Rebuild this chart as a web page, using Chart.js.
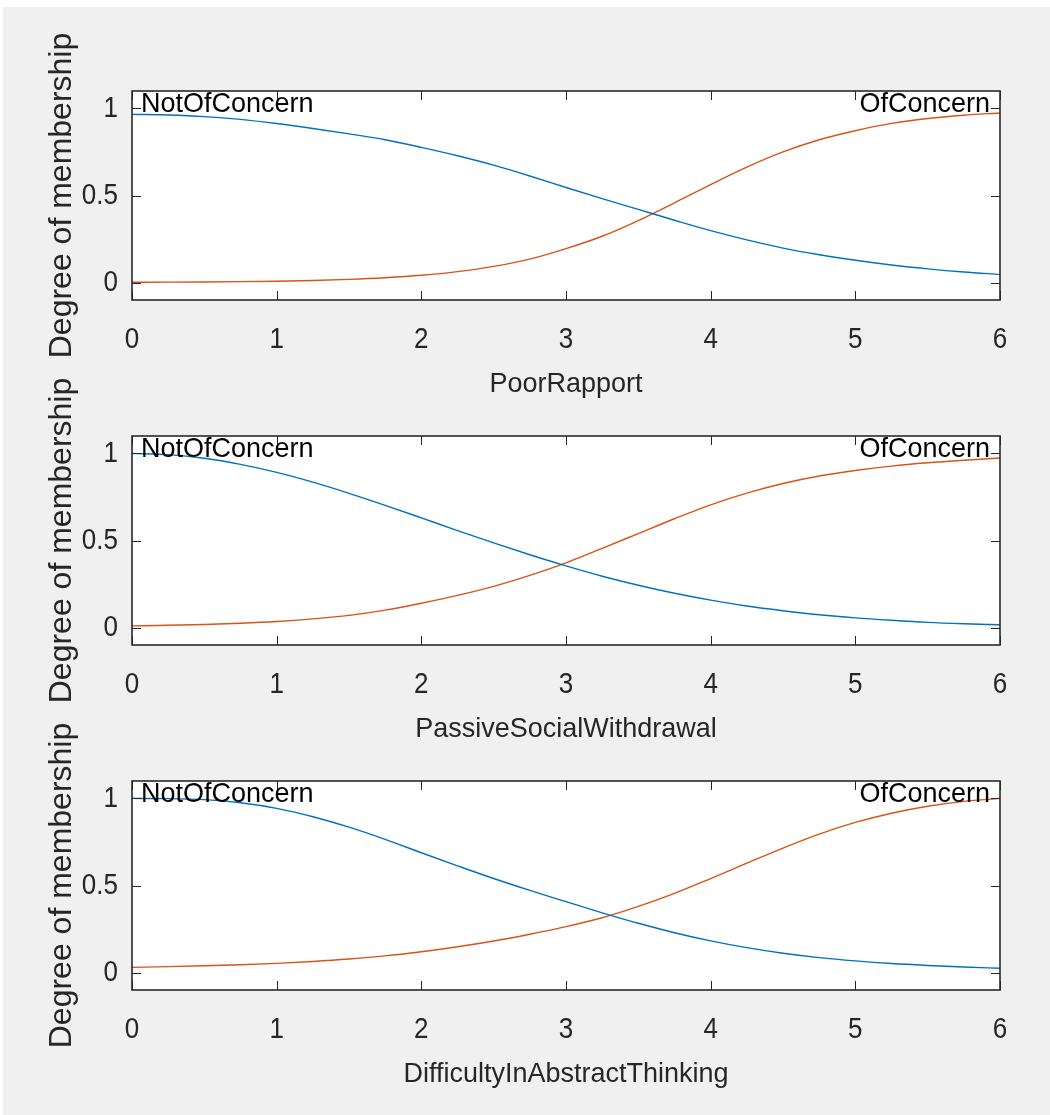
<!DOCTYPE html>
<html>
<head>
<meta charset="utf-8">
<title>Membership functions</title>
<script src="https://cdn.jsdelivr.net/npm/chart.js@4.4.1/dist/chart.umd.min.js"></script>
<style>
  html, body { margin: 0; padding: 0; background: #ffffff; width: 1050px; height: 1115px; overflow: hidden; }
  #fig { position: absolute; left: 3px; top: 7px; width: 1047px; height: 1108px; background: #f0f0f0; overflow: hidden; }
  .ax { position: absolute; left: 0; width: 1047px; height: 420px; }
</style>
</head>
<body>
<div id="fig">
  <canvas id="ax0" class="ax" width="1047" height="420" style="top:0px"></canvas>
  <canvas id="ax1" class="ax" width="1047" height="420" style="top:345px"></canvas>
  <canvas id="ax2" class="ax" width="1047" height="420" style="top:690px"></canvas>
</div>
<script>
// Input universe samples (0 .. 6)
const xValues = [0, 0.25, 0.5, 0.75, 1, 1.25, 1.5, 1.75, 2, 2.25, 2.5, 2.75, 3,
                 3.25, 3.5, 3.75, 4, 4.25, 4.5, 4.75, 5, 5.25, 5.5, 5.75, 6];
const xTicks = [0, 1, 2, 3, 4, 5, 6];
const yTicks = [0, 0.5, 1];
const inputNames = ['PoorRapport', 'PassiveSocialWithdrawal', 'DifficultyInAbstractThinking'];
const mfNames = ['NotOfConcern', 'OfConcern'];
const yLabel = 'Degree of membership';

// PoorRapport
const poorRapportNot = [0.966, 0.962, 0.953, 0.937, 0.913, 0.885, 0.854, 0.82, 0.776, 0.728, 0.674, 0.612, 0.546,
                        0.482, 0.42, 0.358, 0.298, 0.245, 0.198, 0.16, 0.128, 0.101, 0.079, 0.061, 0.047];
const poorRapportOf  = [0.002, 0.0025, 0.0035, 0.0053, 0.008, 0.0123, 0.0185, 0.028, 0.042, 0.063, 0.093, 0.135, 0.195,
                        0.266, 0.356, 0.458, 0.563, 0.663, 0.75, 0.82, 0.872, 0.914, 0.942, 0.961, 0.974];
// PassiveSocialWithdrawal
const withdrawalNot  = [1.0, 0.993, 0.972, 0.937, 0.891, 0.835, 0.771, 0.702, 0.63, 0.557, 0.486, 0.418, 0.354,
                        0.295, 0.243, 0.197, 0.158, 0.124, 0.097, 0.074, 0.056, 0.042, 0.03, 0.022, 0.016];
const withdrawalOf   = [0.01, 0.013, 0.018, 0.025, 0.035, 0.05, 0.07, 0.1, 0.14, 0.185, 0.237, 0.3, 0.372,
                        0.455, 0.54, 0.625, 0.705, 0.772, 0.827, 0.87, 0.902, 0.927, 0.946, 0.961, 0.974];
// DifficultyInAbstractThinking
const abstractNot    = [1.0, 0.999, 0.993, 0.975, 0.943, 0.895, 0.835, 0.765, 0.688, 0.613, 0.54, 0.472, 0.407,
                        0.343, 0.283, 0.229, 0.182, 0.143, 0.111, 0.086, 0.067, 0.052, 0.041, 0.032, 0.025];
const abstractOf     = [0.03, 0.034, 0.039, 0.045, 0.053, 0.064, 0.078, 0.096, 0.12, 0.148, 0.181, 0.22, 0.264,
                        0.315, 0.38, 0.455, 0.54, 0.628, 0.715, 0.795, 0.862, 0.915, 0.955, 0.983, 1.0];

const seriesByInput = [
  [poorRapportNot, poorRapportOf],
  [withdrawalNot, withdrawalOf],
  [abstractNot, abstractOf]
];
const lineColors = ['#0072BD', '#D95319'];

const AX_COLOR = '#262626';
const FONT = '"Liberation Sans", Arial, Helvetica, sans-serif';
const TICK_SIZE = 26, TITLE_SIZE = 27, YTITLE_SIZE = 32;

// Upright text is drawn slightly tall (narrow look of the axes font);
// rotated text is left untouched.
const TEXT_STRETCH = { [TICK_SIZE]: 1.16, [TITLE_SIZE]: 1.05 };
function useTallText(ctx) {
  const plainFill = CanvasRenderingContext2D.prototype.fillText;
  ctx.fillText = function (text, x, y, maxWidth) {
    const m = this.getTransform();
    const match = /(\d+(?:\.\d+)?)px/.exec(this.font);
    const size = match ? Math.round(parseFloat(match[1])) : 0;
    const s = (m.b === 0 && m.c === 0) ? (TEXT_STRETCH[size] || 1) : 1;
    if (s === 1) {
      return maxWidth === undefined ? plainFill.call(this, text, x, y) : plainFill.call(this, text, x, y, maxWidth);
    }
    this.save();
    this.translate(x, y);
    this.scale(1, s);
    if (maxWidth === undefined) plainFill.call(this, text, 0, 0);
    else plainFill.call(this, text, 0, 0, maxWidth);
    this.restore();
  };
  return ctx;
}

// White axes background, inward ticks on all four sides, box outline and MF names
const axesDecor = {
  id: 'axesDecor',
  beforeDraw(chart) {
    const { ctx, chartArea: a } = chart;
    ctx.save();
    ctx.fillStyle = '#ffffff';
    ctx.fillRect(a.left, a.top, a.right - a.left, a.bottom - a.top);
    ctx.restore();
  },
  afterDraw(chart) {
    const { ctx, chartArea: a, scales: { x, y } } = chart;
    ctx.save();
    const tl = 9;
    ctx.strokeStyle = AX_COLOR;
    ctx.lineWidth = 1;
    ctx.beginPath();
    xTicks.forEach(v => {
      const px = Math.round(x.getPixelForValue(v)) + 0.5;
      ctx.moveTo(px, a.bottom); ctx.lineTo(px, a.bottom - tl);
      ctx.moveTo(px, a.top); ctx.lineTo(px, a.top + tl);
    });
    yTicks.forEach(v => {
      const py = Math.round(y.getPixelForValue(v)) + 0.5;
      ctx.moveTo(a.left, py); ctx.lineTo(a.left + tl, py);
      ctx.moveTo(a.right, py); ctx.lineTo(a.right - tl, py);
    });
    ctx.stroke();
    ctx.lineWidth = 1.6;
    ctx.strokeStyle = '#2a2a2a';
    ctx.strokeRect(a.left, a.top, a.right - a.left, a.bottom - a.top);

    ctx.fillStyle = '#000000';
    ctx.font = TITLE_SIZE + 'px ' + FONT;
    ctx.textBaseline = 'alphabetic';
    const yb = y.getPixelForValue(1) + 4;
    ctx.textAlign = 'left';
    ctx.fillText(mfNames[0], x.getPixelForValue(xTicks[0]) + 9, yb);
    ctx.textAlign = 'right';
    ctx.fillText(mfNames[1], x.getPixelForValue(xTicks[xTicks.length - 1]) - 10, yb);
    ctx.restore();
  }
};

function makeAxes(canvasId, inputName, series) {
  const ctx = useTallText(document.getElementById(canvasId).getContext('2d'));
  const datasets = series.map((vals, k) => ({
    label: mfNames[k],
    data: xValues.map((xv, i) => ({ x: xv, y: vals[i] })),
    borderColor: lineColors[k],
    borderWidth: 1.4,
    pointRadius: 0,
    fill: false,
    cubicInterpolationMode: 'monotone'
  }));
  return new Chart(ctx, {
    type: 'line',
    data: { datasets },
    plugins: [axesDecor],
    options: {
      responsive: false,
      animation: false,
      devicePixelRatio: 1,
      layout: { padding: { top: 84, right: 50, bottom: 0, left: 0 } },
      plugins: { legend: { display: false }, tooltip: { enabled: false } },
      scales: {
        x: {
          type: 'linear',
          min: 0, max: 6,
          grid: { display: false, drawTicks: false },
          border: { display: false },
          afterBuildTicks: s => { s.ticks = xTicks.map(v => ({ value: v })); },
          afterFit: s => { s.height = 127; },
          ticks: { color: AX_COLOR, padding: 24, maxRotation: 0, font: { family: FONT, size: TICK_SIZE } },
          title: { display: true, text: inputName, color: AX_COLOR, padding: { top: 0, bottom: 27 },
                   font: { family: FONT, size: TITLE_SIZE } }
        },
        y: {
          type: 'linear',
          min: -0.1, max: 1.1,
          grid: { display: false, drawTicks: false },
          border: { display: false },
          afterBuildTicks: s => { s.ticks = yTicks.map(v => ({ value: v })); },
          afterFit: s => { s.width = 129; },
          ticks: { color: AX_COLOR, padding: 14, font: { family: FONT, size: TICK_SIZE },
                   callback: v => String(v) },
          title: { display: true, text: yLabel, color: AX_COLOR, padding: { top: 40, bottom: 0 },
                   font: { family: FONT, size: YTITLE_SIZE } }
        }
      }
    }
  });
}

inputNames.forEach((name, i) => makeAxes('ax' + i, name, seriesByInput[i]));
</script>
</body>
</html>
